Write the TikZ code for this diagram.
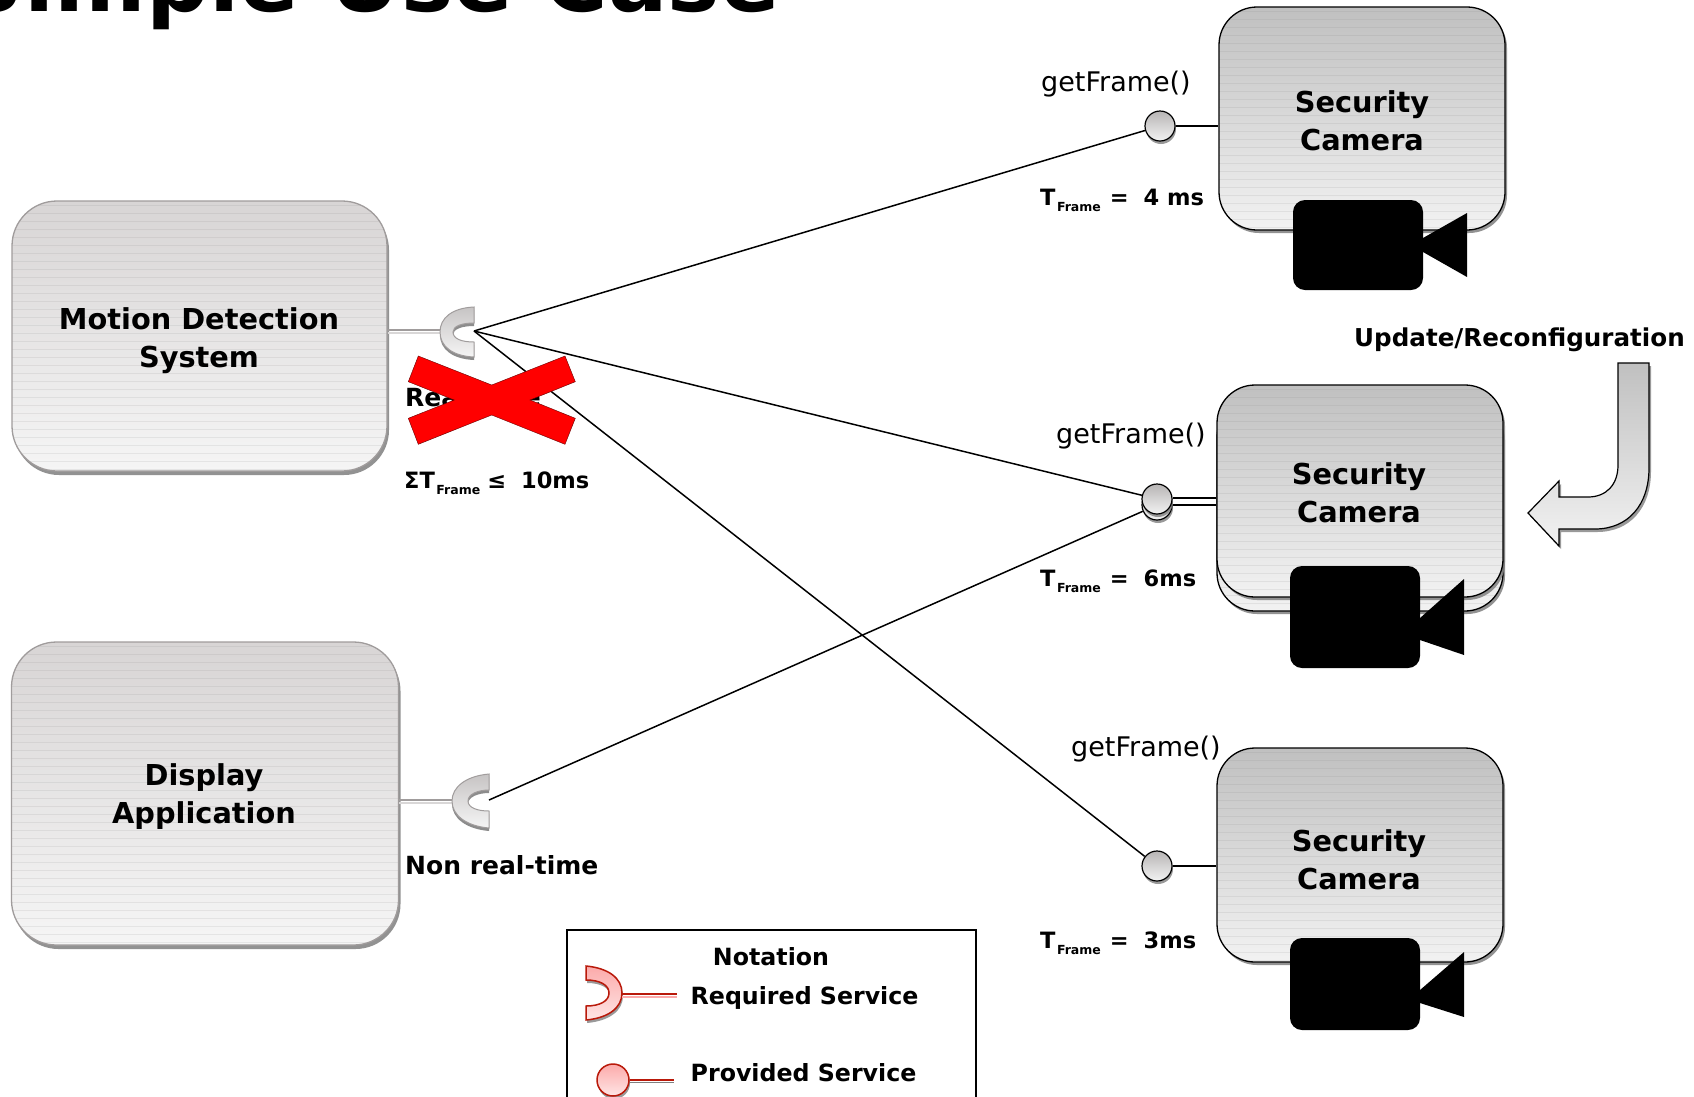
\documentclass[tikz,border=0pt]{standalone}
\usepackage{fontspec}
\setmainfont{DejaVu Sans}
\usetikzlibrary{shadows}
\newcommand{\tfr}{T{\fontsize{12.5}{14}\selectfont\raisebox{-6pt}{\kern1.5pt Frame}}}
\definecolor{lightTop}{RGB}{216,213,213}
\definecolor{lightBot}{RGB}{245,245,245}
\definecolor{darkTop}{RGB}{192,192,192}
\definecolor{darkBot}{RGB}{242,242,242}
\definecolor{softEdge}{RGB}{160,156,156}
\definecolor{legendRed}{RGB}{185,25,10}
\definecolor{legendPink}{RGB}{252,170,170}
\tikzset{
  x=1pt,y=-1pt,
  stripes/.style={path picture={
    \foreach \i in {4,12,...,320}{
      \draw[gray,opacity=.13,line width=.8pt]
        ([yshift=-\i pt]path picture bounding box.north west) --
        ([yshift=-\i pt]path picture bounding box.north east);}}},
  softbox/.style={draw=softEdge,line width=1.3pt,rounded corners=45pt,top color=lightTop,bottom color=lightBot,stripes,
    drop shadow={shadow xshift=2pt,shadow yshift=-4pt,fill=gray,opacity=.85},inner sep=0pt},
  cambox/.style={draw=black,line width=1.3pt,rounded corners=38pt,top color=darkTop,bottom color=darkBot,stripes,
    drop shadow={shadow xshift=2pt,shadow yshift=-3pt,fill=gray,opacity=.85},minimum width=286pt,inner sep=0pt},
  boxtxt/.style={align=center,font=\fontsize{28.8}{38}\selectfont\bfseries,inner sep=0pt},
  lens/.style={fill=black,rounded corners=12pt,minimum width=130pt,inner sep=0pt},
  ball/.style={circle,draw=black,line width=1.2pt,minimum size=30pt,inner sep=0pt,top color=lightTop!85!black,bottom color=white!90!gray,
    drop shadow={shadow xshift=1pt,shadow yshift=-3pt,fill=gray,opacity=.8}},
  sock/.style={draw=softEdge,line width=1pt,top color=lightTop!92!black,bottom color=lightBot,
    drop shadow={shadow xshift=0pt,shadow yshift=-3pt,fill=gray,opacity=.9}},
  wire/.style={draw=black,line width=1.5pt},
  lbl/.style={font=\fontsize{25}{28}\selectfont\bfseries,inner sep=0pt,anchor=base west},
  tlbl/.style={font=\fontsize{22.5}{28}\selectfont\bfseries,inner sep=0pt,anchor=base west},
  fnlbl/.style={font=\fontsize{27}{30}\selectfont,inner sep=0pt},
  legendlbl/.style={font=\fontsize{23.7}{28}\selectfont\bfseries,inner sep=0pt,anchor=base west},
  redsock/.style={draw=legendRed,line width=1.5pt,top color=legendPink,bottom color=legendPink!30,
    drop shadow={shadow xshift=1pt,shadow yshift=-3pt,fill=gray,opacity=.8}},
  redball/.style={circle,draw=legendRed,line width=1.5pt,minimum size=32pt,inner sep=0pt,top color=legendPink,bottom color=legendPink!30,
    drop shadow={shadow xshift=1pt,shadow yshift=-3pt,fill=gray,opacity=.8}},
}
\begin{document}
\begin{tikzpicture}
\useasboundingbox (0,0) rectangle (1694,1096);
\clip (0,0) rectangle (1694,1096);
\fill[white] (0,0) rectangle (1694,1096);

% title
\node[font=\fontsize{88}{90}\selectfont\bfseries,anchor=base east,inner sep=0pt] (title) at (780,11) {Simple Use Case};

% main boxes
\node[softbox,minimum width=375pt,minimum height=270pt] (motion) at (199.5,336) {};
\node[boxtxt] (motiontxt) at (199,341) {Motion Detection\\System};
\node[softbox,minimum width=387pt,minimum height=303pt] (display) at (205,793.5) {};
\node[boxtxt] (displaytxt) at (204,797) {Display\\Application};

% cameras
\node[cambox,minimum height=223pt] (camA) at (1362,118.5) {};
\node[boxtxt] (camAtxt) at (1362,121) {Security\\Camera};
\node[cambox,minimum height=212pt] (camBback) at (1360,505) {};
\node[cambox,minimum height=212pt] (camB) at (1360,491) {};
\node[boxtxt] (camBtxt) at (1359,493) {Security\\Camera};
\node[cambox,minimum height=214pt] (camC) at (1360,855) {};
\node[boxtxt] (camCtxt) at (1359,860) {Security\\Camera};

\node[lens,minimum height=90pt] (lensA) at (1358,245) {};
\fill (1423,238) -- (1467,213) -- (1467,277) -- (1423,252) -- cycle;
\node[lens,minimum height=102pt] (lensB) at (1355,617) {};
\fill (1420,618) -- (1464,579) -- (1464,655) -- (1420,640) -- cycle;
\node[lens,minimum height=92pt] (lensC) at (1355,984) {};
\fill (1420,990) -- (1464,952) -- (1464,1017) -- (1420,1003) -- cycle;

% labels
\node[fnlbl] (gfA) at (1116,84) {getFrame()};
\node[fnlbl] (gfB) at (1131,436.5) {getFrame()};
\node[fnlbl] (gfC) at (1146,749) {getFrame()};
\node[tlbl] (tA) at (1040,205) {\tfr\hspace{9pt}=\hspace{15pt}4 ms};
\node[tlbl] (tB) at (1040,586) {\tfr\hspace{9pt}=\hspace{15pt}6ms};
\node[tlbl] (tC) at (1040,948) {\tfr\hspace{9pt}=\hspace{15pt}3ms};
\node[lbl] (real) at (405,406) {Real-time};
\node[tlbl] (sum) at (404,488) {Σ\tfr\hspace{7pt}≤\hspace{15pt}10ms};
\node[lbl] (nrt) at (405,874) {Non real-time};
\node[font=\fontsize{24.6}{28}\selectfont\bfseries,inner sep=0pt,anchor=base west] (upd) at (1354,346) {Update/Reconfiguration};

% provided interfaces
\coordinate (sockAback) at (441,330);
\coordinate (sockBback) at (453,800);
\coordinate (sockA) at (474,331);
\coordinate (sockB) at (489,800);
\draw[softEdge,line width=1.5pt] (motion.east |- sockAback) -- (sockAback);
\draw[softEdge!40,line width=1.5pt] ([yshift=-3pt]motion.east |- sockAback) -- ([yshift=-3pt]sockAback);
\draw[softEdge,line width=1.5pt] (display.east |- sockBback) -- (sockBback);
\draw[softEdge!40,line width=1.5pt] ([yshift=-3pt]display.east |- sockBback) -- ([yshift=-3pt]sockBback);

\path[sock] (474,307) .. controls (452,308) and (440,318) .. (440,332) .. controls (440,346) and (452,356) .. (474,357)
  -- (474,342) .. controls (462,342) and (453,339) .. (453,332) .. controls (453,326) and (462,323) .. (474,323) -- cycle;
\path[sock] (489,774) .. controls (466,776) and (452,787) .. (452,801) .. controls (452,815) and (466,826) .. (489,828)
  -- (489,811) .. controls (478,811) and (468,808) .. (468,801) .. controls (468,794) and (478,790) .. (489,790) -- cycle;

\node[ball] (ballBback) at (1157,505) {};
\node[ball] (ballA) at (1160,126) {};
\node[ball] (ballB) at (1157,499) {};
\node[ball] (ballC) at (1157,866) {};

\draw[wire] (ballA) -- (camA.west |- ballA);
\draw[black,line width=1.2pt] ([yshift=1pt]ballB.east) -- ([yshift=1pt]camB.west |- ballB);
\draw[black,line width=1.2pt] ([yshift=-6pt]ballB.east) -- ([yshift=-6pt]camB.west |- ballB);
\draw[wire] (ballC) -- (camC.west |- ballC);

\draw[wire] (sockA) -- (ballA);
\draw[wire] (sockA) -- (ballB);
\draw[wire] (sockA) -- (ballC);
\draw[wire] (sockB) -- (ballBback);

% red cross
\path[fill=red,draw=black!60!red,line width=.4pt]
  (418.3,356) -- (491.7,385) -- (565,356) -- (575.3,381.7) -- (530,400) -- (575.3,418.3) -- (565,444.3)
  -- (491.7,415) -- (418.3,444.3) -- (408.3,418.3) -- (454.3,400) -- (408.3,381.7) -- cycle;

% update arrow
\path[draw=black,line width=1.2pt,top color=darkTop,bottom color=darkBot,
  drop shadow={shadow xshift=2pt,shadow yshift=-3pt,fill=gray,opacity=.8}]
  (1618,363) -- (1649,363) -- (1649,468) .. controls (1649,505) and (1628,529) .. (1595,529)
  -- (1559,529) -- (1559,546) -- (1528,513) -- (1559,481) -- (1559,497) -- (1588,497)
  .. controls (1606,497) and (1618,485) .. (1618,465) -- cycle;

% legend
\node[draw=black,line width=1.3pt,minimum width=409pt,minimum height=300pt,inner sep=0pt] (legend) at (771.5,1080) {};
\node[font=\fontsize{23.7}{28}\selectfont\bfseries,inner sep=0pt] (nota) at (771,957) {Notation};
\node[legendlbl] (req) at (690.5,1004) {Required Service};
\node[legendlbl] (prov) at (690.5,1081) {Provided Service};
\path[redsock] (586,966) .. controls (608,968) and (622,978) .. (622,993) .. controls (622,1008) and (608,1018) .. (586,1020)
  -- (586,1006) .. controls (600,1006) and (609,1001) .. (609,993) .. controls (609,985) and (600,980) .. (586,980) -- cycle;
\coordinate (reqback) at (622,994);
\coordinate (reqend) at (677,994);
\draw[legendRed,line width=1.5pt] (reqback) -- (reqend);
\draw[legendPink,line width=1.5pt] ([yshift=-3pt]reqback) -- ([yshift=-3pt]reqend);
\node[redball] (provball) at (613,1080) {};
\coordinate (provend) at (674,1080);
\draw[legendRed,line width=1.5pt] (provball) -- (provend);
\draw[gray,line width=1.2pt] ([yshift=-2.5pt]provball.east) -- ([yshift=-2.5pt]provend);
\end{tikzpicture}
\end{document}
